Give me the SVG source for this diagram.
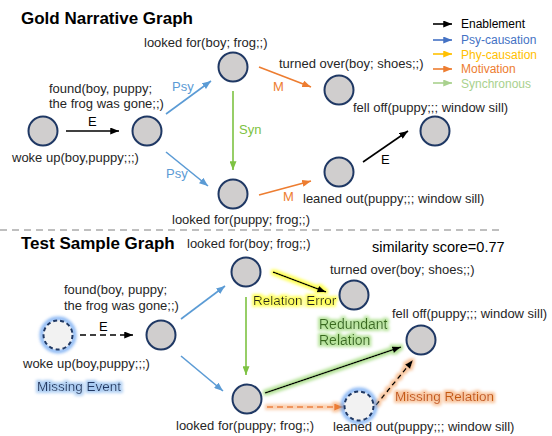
<svg xmlns="http://www.w3.org/2000/svg" width="552" height="436" viewBox="0 0 552 436">
<defs>
<style>
text{font-family:"Liberation Sans",Arial,sans-serif;fill:#262626;}
.t{font-size:17px;font-weight:bold;fill:#000;}
.l{font-size:13px;}
.lg{font-size:12px;}
.n{fill:#d0cece;stroke:#1f3864;stroke-width:2;}
.m{fill:#f2f2f2;stroke:#1f3864;stroke-width:2;stroke-dasharray:4 3;}
.k{stroke:#000;stroke-width:1.6;fill:none;}
.b{stroke:#5b9bd5;stroke-width:1.6;fill:none;}
.g{stroke:#7dc242;stroke-width:1.6;fill:none;}
.o{stroke:#ed7d31;stroke-width:1.6;fill:none;}
</style>
<marker id="ak" viewBox="0 0 10 8" refX="10" refY="4" markerWidth="9" markerHeight="7" markerUnits="userSpaceOnUse" orient="auto"><path d="M0,0L10,4L0,8z" fill="#000"/></marker>
<marker id="ab" viewBox="0 0 10 8" refX="10" refY="4" markerWidth="9" markerHeight="7" markerUnits="userSpaceOnUse" orient="auto"><path d="M0,0L10,4L0,8z" fill="#5b9bd5"/></marker>
<marker id="ab2" viewBox="0 0 10 8" refX="10" refY="4" markerWidth="9" markerHeight="7" markerUnits="userSpaceOnUse" orient="auto"><path d="M0,0L10,4L0,8z" fill="#4472c4"/></marker>
<marker id="ag" viewBox="0 0 10 8" refX="10" refY="4" markerWidth="9" markerHeight="7" markerUnits="userSpaceOnUse" orient="auto"><path d="M0,0L10,4L0,8z" fill="#7dc242"/></marker>
<marker id="ag2" viewBox="0 0 10 8" refX="10" refY="4" markerWidth="9" markerHeight="7" markerUnits="userSpaceOnUse" orient="auto"><path d="M0,0L10,4L0,8z" fill="#a9d18e"/></marker>
<marker id="ao" viewBox="0 0 10 8" refX="10" refY="4" markerWidth="9" markerHeight="7" markerUnits="userSpaceOnUse" orient="auto"><path d="M0,0L10,4L0,8z" fill="#ed7d31"/></marker>
<marker id="ay" viewBox="0 0 10 8" refX="10" refY="4" markerWidth="9" markerHeight="7" markerUnits="userSpaceOnUse" orient="auto"><path d="M0,0L10,4L0,8z" fill="#ffc000"/></marker>
<filter id="fy" filterUnits="userSpaceOnUse" x="0" y="0" width="552" height="436"><feMorphology in="SourceAlpha" operator="dilate" radius="1.5" result="d"/><feGaussianBlur in="d" stdDeviation="1.6" result="bl"/><feFlood flood-color="#ffff5a"/><feComposite in2="bl" operator="in" result="gl"/><feMerge><feMergeNode in="gl"/><feMergeNode in="SourceGraphic"/></feMerge></filter>
<filter id="fg" filterUnits="userSpaceOnUse" x="0" y="0" width="552" height="436"><feMorphology in="SourceAlpha" operator="dilate" radius="1.5" result="d"/><feGaussianBlur in="d" stdDeviation="1.6" result="bl"/><feFlood flood-color="#b6e39a"/><feComposite in2="bl" operator="in" result="gl"/><feMerge><feMergeNode in="gl"/><feMergeNode in="SourceGraphic"/></feMerge></filter>
<filter id="fo" filterUnits="userSpaceOnUse" x="0" y="0" width="552" height="436"><feMorphology in="SourceAlpha" operator="dilate" radius="1.5" result="d"/><feGaussianBlur in="d" stdDeviation="1.6" result="bl"/><feFlood flood-color="#f8c39a"/><feComposite in2="bl" operator="in" result="gl"/><feMerge><feMergeNode in="gl"/><feMergeNode in="SourceGraphic"/></feMerge></filter>
<filter id="fb" filterUnits="userSpaceOnUse" x="0" y="0" width="552" height="436"><feMorphology in="SourceAlpha" operator="dilate" radius="1.5" result="d"/><feGaussianBlur in="d" stdDeviation="1.6" result="bl"/><feFlood flood-color="#a9cbf2"/><feComposite in2="bl" operator="in" result="gl"/><feMerge><feMergeNode in="gl"/><feMergeNode in="SourceGraphic"/></feMerge></filter>
<filter id="fbc" x="-50%" y="-50%" width="200%" height="200%"><feGaussianBlur stdDeviation="1.5"/></filter>
</defs>
<rect width="552" height="436" fill="#fff"/>

<text class="t" x="21" y="24">Gold Narrative Graph</text>
<text class="t" x="21" y="249">Test Sample Graph</text>
<line x1="0" y1="230" x2="500" y2="230" stroke="#aaa" stroke-width="1.3" stroke-dasharray="7 5"/>

<g id="legend">
<line x1="433" y1="24" x2="452" y2="24" class="k" marker-end="url(#ak)"/>
<text class="lg" x="461" y="28" style="fill:#000">Enablement</text>
<line x1="433" y1="40" x2="452" y2="40" stroke="#4472c4" stroke-width="1.6" marker-end="url(#ab2)"/>
<text class="lg" x="461" y="44" style="fill:#4472c4">Psy-causation</text>
<line x1="433" y1="54" x2="452" y2="54" stroke="#ffc000" stroke-width="1.6" marker-end="url(#ay)"/>
<text class="lg" x="461" y="59" style="fill:#ffc000">Phy-causation</text>
<line x1="433" y1="69" x2="452" y2="69" stroke="#ed7d31" stroke-width="1.6" marker-end="url(#ao)"/>
<text class="lg" x="461" y="73" style="fill:#ed7d31">Motivation</text>
<line x1="433" y1="83" x2="452" y2="83" stroke="#a9d18e" stroke-width="1.6" marker-end="url(#ag2)"/>
<text class="lg" x="461" y="88" style="fill:#a9d18e">Synchronous</text>
</g>

<g id="connectors">
<line class="k" x1="66" y1="131" x2="119" y2="131" marker-end="url(#ak)"/>
<text class="l" x="88" y="126" style="fill:#000">E</text>
<line class="b" x1="166" y1="114" x2="211" y2="81" marker-end="url(#ab)"/>
<text class="l" x="172" y="91" style="fill:#5b9bd5">Psy</text>
<line class="b" x1="166" y1="152" x2="208" y2="186" marker-end="url(#ab)"/>
<text class="l" x="166" y="178" style="fill:#5b9bd5">Psy</text>
<line class="g" x1="233" y1="91" x2="233" y2="170" marker-end="url(#ag)"/>
<text class="l" x="239" y="134" style="fill:#7dc242">Syn</text>
<line class="o" x1="259" y1="67" x2="311" y2="87" marker-end="url(#ao)"/>
<text class="l" x="273" y="91" style="fill:#ed7d31">M</text>
<line class="o" x1="259" y1="195" x2="311" y2="181" marker-end="url(#ao)"/>
<text class="l" x="283" y="201" style="fill:#ed7d31">M</text>
<line class="k" x1="363" y1="162" x2="408" y2="131" marker-end="url(#ak)"/>
<text class="l" x="381" y="164" style="fill:#000">E</text>
<line class="k" x1="80" y1="335" x2="133" y2="335" stroke-dasharray="6 4" marker-end="url(#ak)"/>
<text class="l" x="99" y="331" style="fill:#000">E</text>
<line class="b" x1="181" y1="319" x2="225" y2="286" marker-end="url(#ab)"/>
<line class="b" x1="181" y1="356" x2="223" y2="391" marker-end="url(#ab)"/>
<line class="g" x1="246" y1="297" x2="246" y2="375" marker-end="url(#ag)"/>
<g filter="url(#fy)"><line class="k" x1="273" y1="272" x2="326" y2="292" marker-end="url(#ak)"/></g>
<g filter="url(#fg)"><line class="k" x1="265" y1="393" x2="401" y2="347" marker-end="url(#ak)"/></g>
<g filter="url(#fo)"><line class="o" x1="267" y1="407" x2="343" y2="407" stroke-dasharray="6 4" marker-end="url(#ao)"/></g>
<g filter="url(#fo)"><line class="k" x1="376" y1="405" x2="413" y2="360" stroke-dasharray="5 3.5" marker-end="url(#ak)"/></g>
<text x="253" y="305" style="font-size:13.5px;fill:#222" filter="url(#fy)">Relation Error</text>
<text x="319" y="329" style="font-size:14px;fill:#386b1f" filter="url(#fg)">Redundant</text>
<text x="319" y="345" style="font-size:14px;fill:#386b1f" filter="url(#fg)">Relation</text>
<text x="395" y="401" style="font-size:13.5px;fill:#c55a11" filter="url(#fo)">Missing Relation</text>
<text x="37" y="391" style="font-size:13.5px;fill:#203864" filter="url(#fb)">Missing Event</text>
</g>

<g id="g-wokeup"><circle class="n" cx="43" cy="131" r="14.5"/><text class="l" x="12" y="162">woke up(boy,puppy;;;)</text></g>
<g id="g-found"><circle class="n" cx="147" cy="131" r="14.5"/><text class="l" x="49" y="93">found(boy, puppy;</text><text class="l" x="49" y="108">the frog was gone;;)</text></g>
<g id="g-lookboy"><circle class="n" cx="233" cy="67" r="14.5"/><text class="l" x="144" y="47">looked for(boy; frog;;)</text></g>
<g id="g-lookpuppy"><circle class="n" cx="233" cy="194" r="14.5"/><text class="l" x="172" y="224">looked for(puppy; frog;;)</text></g>
<g id="g-turned"><circle class="n" cx="339" cy="90" r="14.5"/><text class="l" x="279" y="68">turned over(boy; shoes;;)</text></g>
<g id="g-felloff"><circle class="n" cx="435" cy="131" r="14.5"/><text class="l" x="353" y="112">fell off(puppy;;; window sill)</text></g>
<g id="g-leaned"><circle class="n" cx="339" cy="172" r="14.5"/><text class="l" x="303" y="203">leaned out(puppy;;; window sill)</text></g>

<g id="t-wokeup"><circle cx="58" cy="335" r="16.5" fill="none" stroke="#5b9bf0" stroke-width="4" opacity="0.7" filter="url(#fbc)"/><circle class="m" cx="58" cy="335" r="14.5"/><text class="l" x="23" y="368">woke up(boy,puppy;;;)</text></g>
<g id="t-found"><circle class="n" cx="161" cy="335" r="14.5"/><text class="l" x="64" y="294">found(boy, puppy;</text><text class="l" x="64" y="310">the frog was gone;;)</text></g>
<g id="t-lookboy"><circle class="n" cx="246" cy="272" r="14.5"/><text class="l" x="187" y="248">looked for(boy; frog;;)</text></g>
<g id="t-lookpuppy"><circle class="n" cx="247" cy="399" r="14.5"/><text class="l" x="176" y="430">looked for(puppy; frog;;)</text></g>
<g id="t-turned"><circle class="n" cx="354" cy="295" r="14.5"/><text class="l" x="330" y="274">turned over(boy; shoes;;)</text></g>
<g id="t-felloff"><circle class="n" cx="421" cy="340" r="14.5"/><text class="l" x="392" y="318">fell off(puppy;;; window sill)</text></g>
<g id="t-leaned"><circle cx="359" cy="406" r="16.5" fill="none" stroke="#5b9bf0" stroke-width="4" opacity="0.7" filter="url(#fbc)"/><circle class="m" cx="359" cy="406" r="14.5"/><text class="l" x="333" y="431">leaned out(puppy;;; window sill)</text></g>
<text x="372" y="252" style="font-size:14.5px;fill:#000">similarity score=0.77</text>
</svg>
